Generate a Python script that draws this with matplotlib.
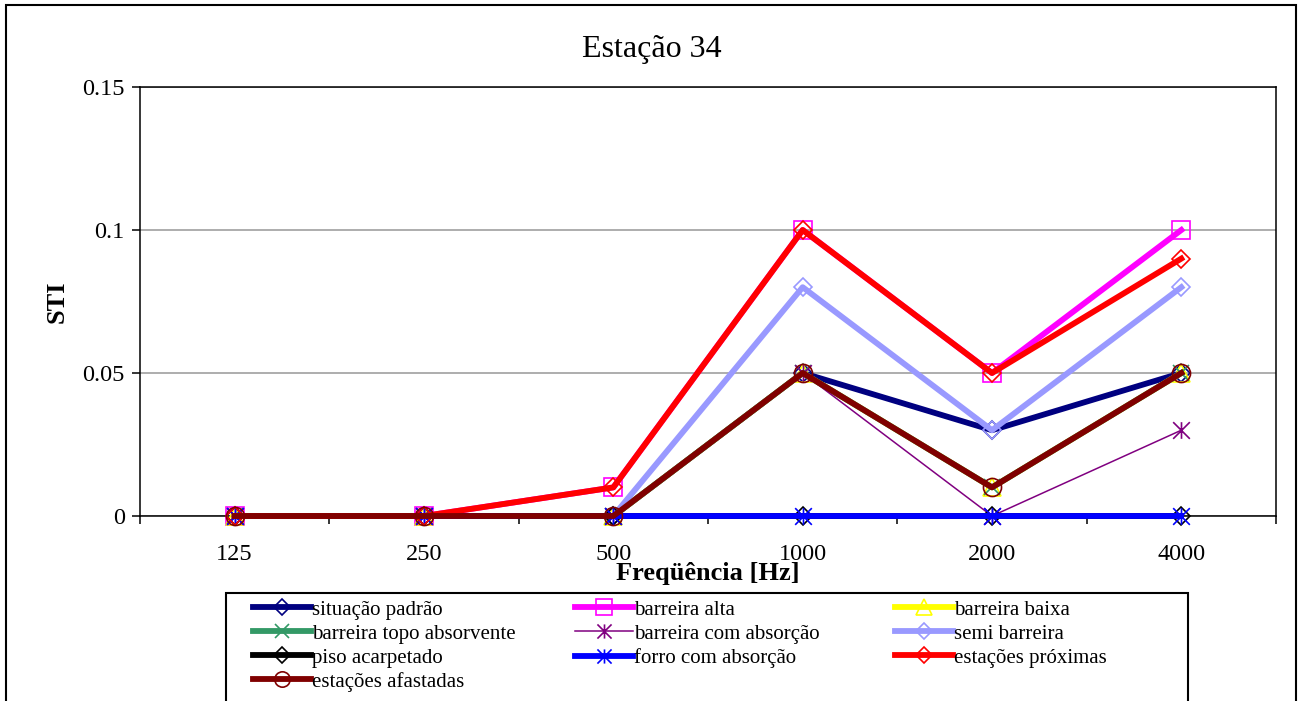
import matplotlib
matplotlib.use("Agg")
import matplotlib.pyplot as plt
from matplotlib.path import Path
from matplotlib.patches import Rectangle
from matplotlib.ticker import FixedLocator, NullFormatter

plt.rcParams['font.family'] = ['Liberation Serif', 'DejaVu Serif']

# data
freqs = ['125', '250', '500', '1000', '2000', '4000']
situacao_padrao = [0, 0, 0, 0.05, 0.03, 0.05]
barreira_alta = [0, 0, 0.01, 0.1, 0.05, 0.1]
barreira_baixa = [0, 0, 0, 0.05, 0.01, 0.05]
barreira_topo = [0, 0, 0, 0.05, 0.01, 0.05]
barreira_absorcao = [0, 0, 0, 0.05, 0, 0.03]
semi_barreira = [0, 0, 0, 0.08, 0.03, 0.08]
piso_acarpetado = [0, 0, 0, 0, 0, 0]
forro_absorcao = [0, 0, 0, 0, 0, 0]
estacoes_proximas = [0, 0, 0.01, 0.1, 0.05, 0.09]
estacoes_afastadas = [0, 0, 0, 0.05, 0.01, 0.05]

# Excel style star: an x with a vertical bar
star = Path([(-1, -1), (1, 1), (-1, 1), (1, -1), (0, -1), (0, 1)],
            [Path.MOVETO, Path.LINETO, Path.MOVETO, Path.LINETO, Path.MOVETO, Path.LINETO])

series = [
    ('situação padrão', situacao_padrao, '#000080', 'D', 4.2, 9.5),
    ('barreira alta', barreira_alta, '#FF00FF', 's', 4.2, 13),
    ('barreira baixa', barreira_baixa, '#FFFF00', '^', 4.2, 13),
    ('barreira topo absorvente', barreira_topo, '#339966', 'x', 4.2, 12),
    ('barreira com absorção', barreira_absorcao, '#800080', star, 1.1, 12),
    ('semi barreira', semi_barreira, '#9999FF', 'D', 4.2, 9.5),
    ('piso acarpetado', piso_acarpetado, '#000000', 'D', 4.2, 9.5),
    ('forro com absorção', forro_absorcao, '#0000FF', star, 4.2, 12),
    ('estações próximas', estacoes_proximas, '#FF0000', 'D', 4.2, 9.5),
    ('estações afastadas', estacoes_afastadas, '#800000', 'o', 4.2, 13),
]

fig = plt.figure(figsize=(13.04, 7.01), dpi=100)
ax = fig.add_axes([140 / 1304, 1 - 516 / 701, 1136 / 1304, 429 / 701])

x = list(range(len(freqs)))
handles = {}
for name, vals, color, marker, lw, ms in series:
    h, = ax.plot(x, vals, color=color, lw=lw, marker=marker, ms=ms,
                 mfc='none', mec=color, mew=1.2, clip_on=False, zorder=3,
                 label=name)
    handles[name] = h

ax.set_xlim(-0.5, 5.5)
ax.set_ylim(0, 0.15)
ax.set_xticks(x)
ax.set_xticklabels(freqs)
ax.xaxis.set_minor_locator(FixedLocator([i - 0.5 for i in range(7)]))
ax.xaxis.set_minor_formatter(NullFormatter())
ax.tick_params(axis='x', which='major', length=0, pad=20, labelsize=17.5)
ax.tick_params(axis='x', which='minor', length=6, width=1.1, direction='out')
ax.set_yticks([0, 0.05, 0.1, 0.15])
ax.set_yticklabels(['0', '0.05', '0.1', '0.15'])
ax.tick_params(axis='y', length=6, width=1.1, direction='out', pad=5, labelsize=17.5)
ax.yaxis.grid(True, color='#A0A0A0', lw=1.2)
ax.set_axisbelow(True)
for sp in ax.spines.values():
    sp.set_linewidth(1.1)

ax.set_xlabel('Freqüência [Hz]', fontsize=19, fontweight='bold')
ax.xaxis.label.set_va('center')
ax.xaxis.set_label_coords(0.5, -0.133)
ax.set_ylabel('STI', fontsize=19, fontweight='bold')
ax.yaxis.label.set_va('center')
ax.yaxis.set_label_coords(-0.073, 0.5)

fig.text(0.5, 1 - 50 / 701, 'Estação 34', fontsize=23, ha='center', va='center')

# outer chart border and legend frame
fig.patches.append(Rectangle((6 / 1304, -0.05), 1290 / 1304, 1.05 - 5 / 701,
                             transform=fig.transFigure, fill=False,
                             ec='black', lw=1.5))
fig.patches.append(Rectangle((226 / 1304, -0.05), 962 / 1304, 0.05 + 1 - 593 / 701,
                             transform=fig.transFigure, fill=False,
                             ec='black', lw=1.5))

# legend in three columns, laid out like the Excel legend
columns = [
    (253, ['situação padrão', 'barreira topo absorvente', 'piso acarpetado', 'estações afastadas']),
    (575, ['barreira alta', 'barreira com absorção', 'forro com absorção']),
    (895, ['barreira baixa', 'semi barreira', 'estações próximas']),
]
for xpos, names in columns:
    leg = fig.legend([handles[n] for n in names], names,
                     loc='upper left', bbox_to_anchor=(xpos / 1304, 1 - 600 / 701),
                     frameon=False, fontsize=15, borderpad=0, borderaxespad=0,
                     handlelength=2.8, handletextpad=0.05, labelspacing=0.21,
                     markerscale=0.85)

fig.savefig('out.png', dpi=100)
